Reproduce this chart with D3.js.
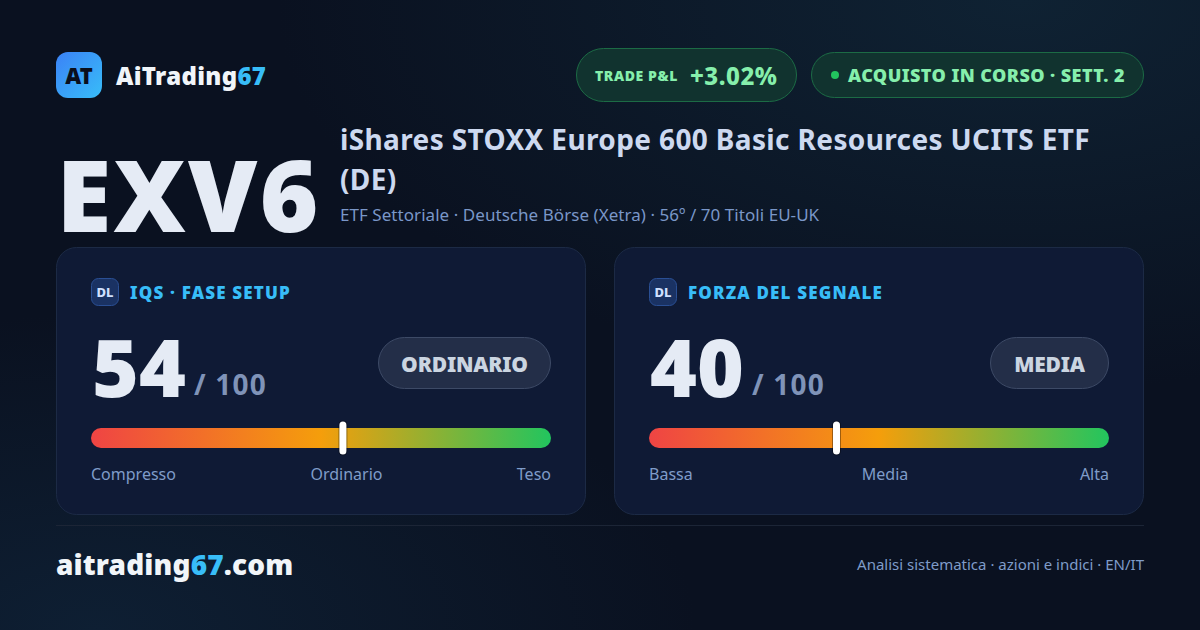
<!DOCTYPE html>
<html><head><meta charset="utf-8">
<script src="https://cdn.jsdelivr.net/npm/d3@7"></script>
<style>html,body{margin:0;padding:0;background:#0a1120;overflow:hidden}svg{display:block}text{font-family:"Noto Sans",sans-serif;white-space:pre}</style>
</head><body><svg id="c" width="1200" height="630"></svg>
<script>
const brandName = ["AiTrading","67"];
const siteName = ["aitrading","67",".com"];
const ticker = "EXV6";
const titleLines = ["iShares STOXX Europe 600 Basic Resources UCITS ETF","(DE)"];
const subtitle = "ETF Settoriale · Deutsche Börse (Xetra) · 56º / 70 Titoli EU-UK";
const cardTitles = ["IQS · FASE SETUP","FORZA DEL SEGNALE"];
const cardValues = [54,40];
const cardBadges = ["ORDINARIO","MEDIA"];
const cardTicks = [["Compresso","Ordinario","Teso"],["Bassa","Media","Alta"]];
const gaugeStops = [0,50,100];
const gaugeColors = ["#ef4444","#f59e0b","#22c55e"];

const svg = d3.select("#c"), defs = svg.append("defs");
function lin(id,x1,y1,x2,y2,st){const g=defs.append("linearGradient").attr("id",id).attr("x1",x1).attr("y1",y1).attr("x2",x2).attr("y2",y2);st.forEach(s=>g.append("stop").attr("offset",s[0]).attr("stop-color",s[1]));}
lin("logo",0,0,1,1,[[0,"#3b82f6"],[1,"#38bdf8"]]);
lin("gauge",0,0,1,0,gaugeStops.map((s,i)=>[s/100,gaugeColors[i]]));
const r1=defs.append("radialGradient").attr("id","bgTR").attr("cx",0.85).attr("cy",0).attr("r",0.62);
r1.append("stop").attr("offset",0).attr("stop-color","#0f2233");r1.append("stop").attr("offset",1).attr("stop-color","#0f2233").attr("stop-opacity",0);
const r2=defs.append("radialGradient").attr("id","bgBL").attr("cx",0.08).attr("cy",1).attr("r",0.5);
r2.append("stop").attr("offset",0).attr("stop-color","#0e1f33");r2.append("stop").attr("offset",1).attr("stop-color","#0e1f33").attr("stop-opacity",0);

svg.append("rect").attr("width",1200).attr("height",630).attr("fill","#0a1120");
svg.append("rect").attr("width",1200).attr("height",630).attr("fill","url(#bgTR)");
svg.append("rect").attr("width",1200).attr("height",630).attr("fill","url(#bgBL)");

function txt(x,y,size,weight,fill,s,anchor,ls){return svg.append("text").attr("x",x).attr("y",y).attr("font-size",size).attr("font-weight",weight).attr("fill",fill).attr("text-anchor",anchor||"start").attr("letter-spacing",ls||0).text(s);}
function spans(x,y,size,weight,parts,colors,ls){const t=svg.append("text").attr("x",x).attr("y",y).attr("font-size",size).attr("font-weight",weight).attr("letter-spacing",ls||0);parts.forEach((p,i)=>t.append("tspan").attr("fill",colors[i]).text(p));return t;}
function box(x,y,w,h,r,fill,stroke){return svg.append("rect").attr("x",x+.5).attr("y",y+.5).attr("width",w-1).attr("height",h-1).attr("rx",r).attr("fill",fill).attr("stroke",stroke||"none");}

// header
svg.append("rect").attr("x",56).attr("y",52).attr("width",46).attr("height",46).attr("rx",12).attr("fill","url(#logo)");
txt(79,84,22,900,"#0a0f1c","AT","middle");
spans(116,85,24,900,brandName,["#f1f5f9","#38bdf8"],0.3);
box(576,48,221,54,27,"#11332f","#1c6b45");
txt(595,81,14,900,"#86efac","TRADE P&L",null,0.6);
txt(690,85,24,800,"#86efac","+3.02%",null,0.5);
box(811,52,333,46,23,"#11332f","#1c6b45");
svg.append("circle").attr("cx",835).attr("cy",75).attr("r",4).attr("fill","#22c55e");
txt(848,82,18,900,"#86efac","ACQUISTO IN CORSO · SETT. 2",null,0.42);

// title
txt(56.5,232,100,900,"#e5ebf5",ticker,null,2.2);
titleLines.forEach((l,i)=>txt(340,150+i*40,28,700,"#cdd9f0",l,null,0.37));
txt(340,221,17,400,"#7a97c8",subtitle,null,0.05);

// cards
const gx=d3.scaleLinear().domain([0,100]);
const cards=[56,614];
cards.forEach((cx,i)=>{
  box(cx,247,530,268,20,"#0f1a35","#1c2a45");
  box(cx+35,278,28,28,7,"#1a3263","#2a4f94");
  txt(cx+49,297,13,800,"#cfe0ff","DL","middle");
  txt(cx+74,299,17,900,"#38bdf8",cardTitles[i],null,1.18);
  txt(cx+36,397,80,900,"#e5ebf5",cardValues[i]);
  txt(cx+138,395,28,700,"#7f93b8","/ 100",null,1.2);
  const bw=[173,119][i];
  box(cx+495-bw,337,bw,52,26,"#232e48","#3d4a66");
  txt(cx+495-bw/2,372,21,900,"#cbd5e1",cardBadges[i],"middle",-0.2);
  const x0=cx+35; gx.range([x0,x0+460]);
  svg.append("rect").attr("x",x0).attr("y",428).attr("width",460).attr("height",20).attr("rx",10).attr("fill","url(#gauge)");
  svg.append("rect").attr("x",gx(cardValues[i])-1).attr("y",420.5).attr("width",9).attr("height",35).attr("rx",4.5).attr("fill","rgba(0,0,0,.35)");
  svg.append("rect").attr("x",gx(cardValues[i])).attr("y",421.5).attr("width",7).attr("height",33).attr("rx",3.5).attr("fill","#fff");
  txt(x0,480,16,400,"#7f9cc9",cardTicks[i][0]);
  txt(x0+[255.5,236][i],480,16,400,"#7f9cc9",cardTicks[i][1],"middle");
  txt(x0+460,480,16,400,"#7f9cc9",cardTicks[i][2],"end");
});
svg.append("rect").attr("x",56).attr("y",525).attr("width",1088).attr("height",1).attr("fill","#1c2536");
spans(56,575,28,900,siteName,["#f1f5f9","#38bdf8","#f1f5f9"],0.15);
txt(1144,570,15,400,"#7f9cc9","Analisi sistematica · azioni e indici · EN/IT","end");
</script></body></html>
